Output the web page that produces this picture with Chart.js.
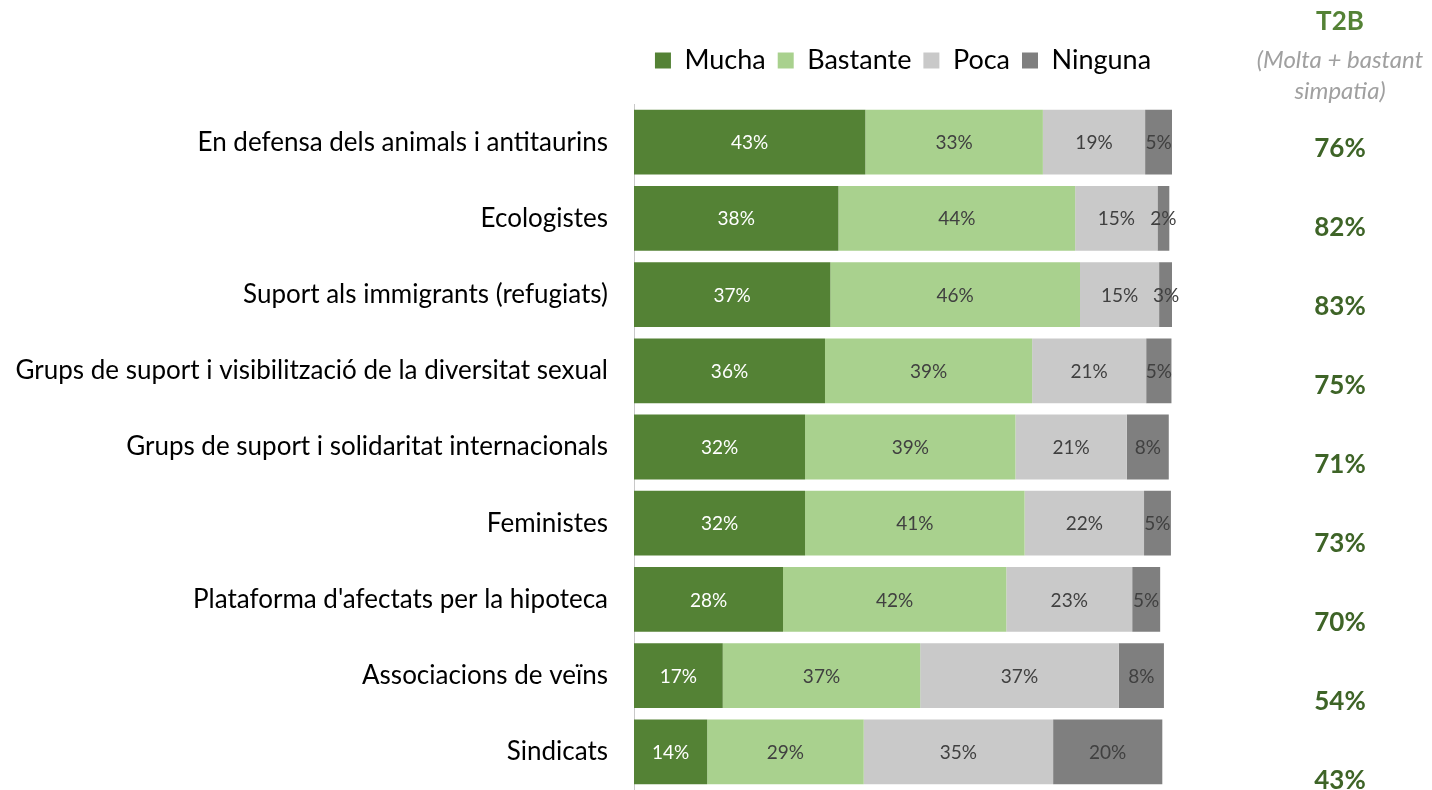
<!DOCTYPE html>
<html>
<head>
<meta charset="utf-8">
<script src="https://cdn.jsdelivr.net/npm/chart.js@4.4.1/dist/chart.umd.min.js"></script>
<style>
  html, body { margin: 0; padding: 0; background: #fff; overflow: hidden; }
  canvas { display: block; }
</style>
</head>
<body>
<canvas id="simpatiaChart" width="1432" height="790"></canvas>
<script>
// Categories (top to bottom)
const categories = [
    'En defensa dels animals i antitaurins',
    'Ecologistes',
    'Suport als immigrants (refugiats)',
    'Grups de suport i visibilització de la diversitat sexual',
    'Grups de suport i solidaritat internacionals',
    'Feministes',
    "Plataforma d'afectats per la hipoteca",
    'Associacions de veïns',
    'Sindicats'
];

// Series values (%)
const mucha    = [43, 38, 36.5, 35.5, 31.8, 31.8, 27.7, 16.5, 13.6];
const bastante = [33, 44, 46.4, 38.5, 39.1, 40.8, 41.5, 36.7, 29.1];
const poca     = [19, 15.3, 14.7, 21.2, 20.7, 22.2, 23.4, 36.9, 35.2];
const ninguna  = [5, 2.2, 2.6, 4.7, 7.8, 5.0, 5.2, 8.4, 20.3];

// T2B column (Molta + bastant simpatia)
const t2b = [76, 82, 83, 75, 71, 73, 70, 54, 43];

const FONT = 'Lato, "Open Sans", sans-serif';

// Leave some room between the legend and the bars
const legendGap = {
    id: 'legendGap',
    beforeLayout(chart) {
        const lg = chart.legend;
        if (!lg || lg._gapPatched) return;
        const origFit = lg.fit.bind(lg);
        lg.fit = function() {
            origFit();
            this.height += 20;
        };
        lg._gapPatched = true;
    }
};

// Draws the % inside each segment
const segmentLabels = {
    id: 'segmentLabels',
    afterDatasetsDraw(chart) {
        const ctx = chart.ctx;
        ctx.save();
        ctx.font = '19px ' + FONT;
        ctx.textAlign = 'center';
        ctx.textBaseline = 'middle';
        chart.data.datasets.forEach((ds, di) => {
            const meta = chart.getDatasetMeta(di);
            meta.data.forEach((bar, i) => {
                const v = ds.data[i];
                const cx = (bar.x + bar.base) / 2;
                ctx.fillStyle = di === 0 ? '#ffffff' : '#404040';
                ctx.fillText(Math.round(v) + '%', cx, bar.y + 1);
            });
        });
        ctx.restore();
    }
};

// T2B header and values on the right
const t2bColumn = {
    id: 't2bColumn',
    afterDraw(chart) {
        const ctx = chart.ctx;
        const yScale = chart.scales.y;
        const cx = 1340;
        ctx.save();
        ctx.textAlign = 'center';
        ctx.textBaseline = 'middle';
        ctx.fillStyle = '#548235';
        ctx.font = 'bold 26px ' + FONT;
        ctx.fillText('T2B', cx, 22);
        ctx.fillStyle = '#a0a0a0';
        ctx.font = 'italic 24px ' + FONT;
        ctx.fillText('(Molta + bastant', cx, 60);
        ctx.fillText('simpatia)', cx, 91);
        ctx.fillStyle = '#3e6427';
        ctx.font = 'bold 26px ' + FONT;
        t2b.forEach((v, i) => {
            const y = yScale.getPixelForValue(i) + 6 + i * 2.8;
            ctx.fillText(v + '%', cx, y);
        });
        ctx.restore();
    }
};

const ctx = document.getElementById('simpatiaChart');
new Chart(ctx, {
    type: 'bar',
    data: {
        labels: categories,
        datasets: [
            { label: 'Mucha', data: mucha, backgroundColor: '#548235' },
            { label: 'Bastante', data: bastante, backgroundColor: '#a9d18e' },
            { label: 'Poca', data: poca, backgroundColor: '#c9c9c9' },
            { label: 'Ninguna', data: ninguna, backgroundColor: '#7f7f7f' }
        ]
    },
    options: {
        responsive: false,
        indexAxis: 'y',
        animation: false,
        layout: {
            padding: { top: 35, right: 260, bottom: 0, left: 0 }
        },
        datasets: {
            bar: {
                categoryPercentage: 0.85,
                barPercentage: 1.0,
                borderWidth: 0
            }
        },
        scales: {
            x: {
                stacked: true,
                min: 0,
                max: 100,
                display: false
            },
            y: {
                stacked: true,
                grid: { display: false, drawTicks: false },
                border: { display: true, color: '#c8c8c8', width: 1 },
                ticks: {
                    color: '#000000',
                    font: { family: FONT, size: 26 },
                    padding: 26
                },
                afterFit(scale) {
                    scale.width = 634;
                    // bars run to the bottom edge, no room kept for label overhang
                    scale.paddingTop = 0;
                    scale.paddingBottom = 0;
                }
            }
        },
        plugins: {
            legend: {
                position: 'top',
                align: 'center',
                fullSize: false,
                labels: {
                    boxWidth: 16,
                    boxHeight: 16,
                    padding: 12,
                    color: '#000000',
                    font: { family: FONT, size: 27 }
                }
            },
            tooltip: { enabled: false }
        }
    },
    plugins: [legendGap, segmentLabels, t2bColumn]
});
</script>
</body>
</html>
